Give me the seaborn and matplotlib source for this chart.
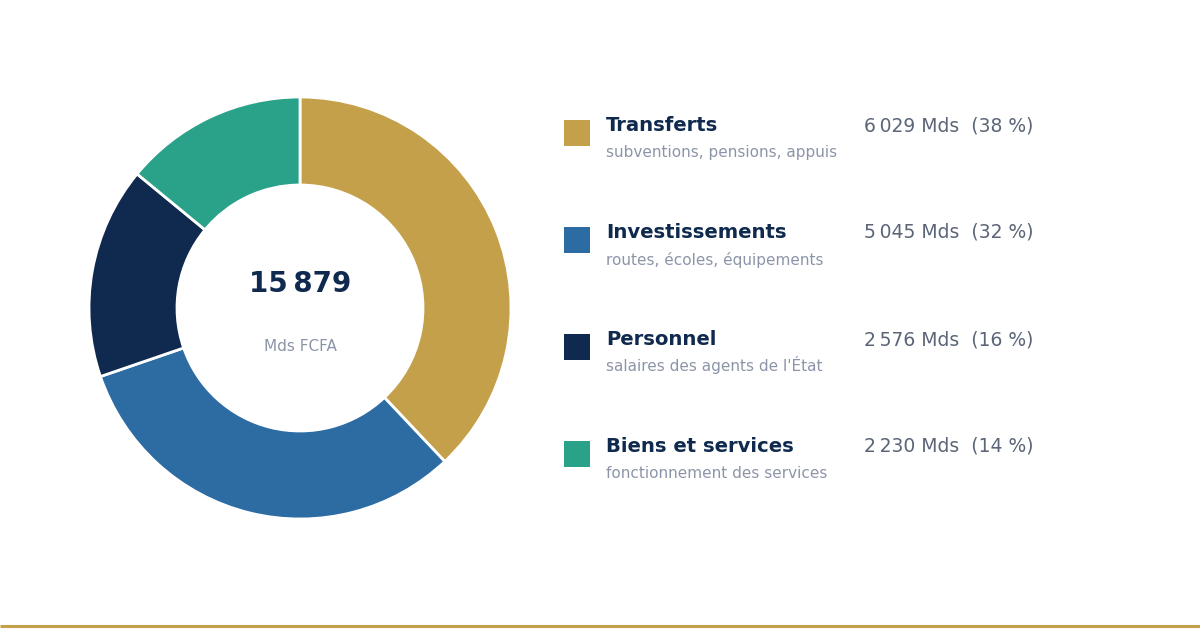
import seaborn as sns
import matplotlib.pyplot as plt
from matplotlib.patches import Rectangle

categories = ["Transferts", "Investissements", "Personnel", "Biens et services"]
subtitles = ["subventions, pensions, appuis", "routes, écoles, équipements",
             "salaires des agents de l'État", "fonctionnement des services"]
values = [6029, 5045, 2576, 2230]
total = 15879
unit = "Mds FCFA"
colors = ["#C4A04B", "#2D6BA3", "#0F2A4E", "#2AA189"]

NNBSP = "\u202f"

def fmt(n):
  return f"{n:,}".replace(",", NNBSP)

sns.set_theme(style="white")
plt.rcParams['font.family'] = ['DejaVu Sans']

W, H = 1200, 630
fig = plt.figure(figsize=(12, 6.3), dpi=100)
ax = fig.add_axes([0, 0, 1, 1])

# donut
ax.pie(values, colors=colors, startangle=90, counterclock=False,
       center=(300, H - 308), radius=211,
       wedgeprops=dict(width=88, edgecolor="white", linewidth=2))
ax.set_xlim(0, W)
ax.set_ylim(0, H)
ax.set_aspect("auto")
ax.axis("off")

ax.text(300, H - 292, fmt(total), ha="center", va="baseline",
        fontsize=20, fontweight="bold", color="#0F2A4E")
ax.text(300, H - 351, unit, ha="center", va="baseline",
        fontsize=11, color="#8C95A8")

# legend rows
row_base = [131, 238, 345, 452]
for i, cat in enumerate(categories):
  yb = row_base[i]
  ax.add_patch(Rectangle((564, H - yb - 15), 26, 26, color=colors[i], lw=0))
  ax.text(606, H - yb, cat, ha="left", va="baseline",
          fontsize=14.1, fontweight="bold", color="#0F2A4E")
  ax.text(606, H - yb - 26.5, subtitles[i], ha="left", va="baseline",
          fontsize=11, color="#8C95A8")
  pct = round(values[i] / total * 100)
  ax.text(864, H - yb, f"{fmt(values[i])} Mds  ({pct} %)", ha="left",
          va="baseline", fontsize=13.5, color="#5B6577")

# bottom rule
ax.plot([0, W], [H - 626, H - 626], color="#C4A04B", lw=2.2,
        solid_capstyle="butt")

fig.savefig("out.png", dpi=100)
